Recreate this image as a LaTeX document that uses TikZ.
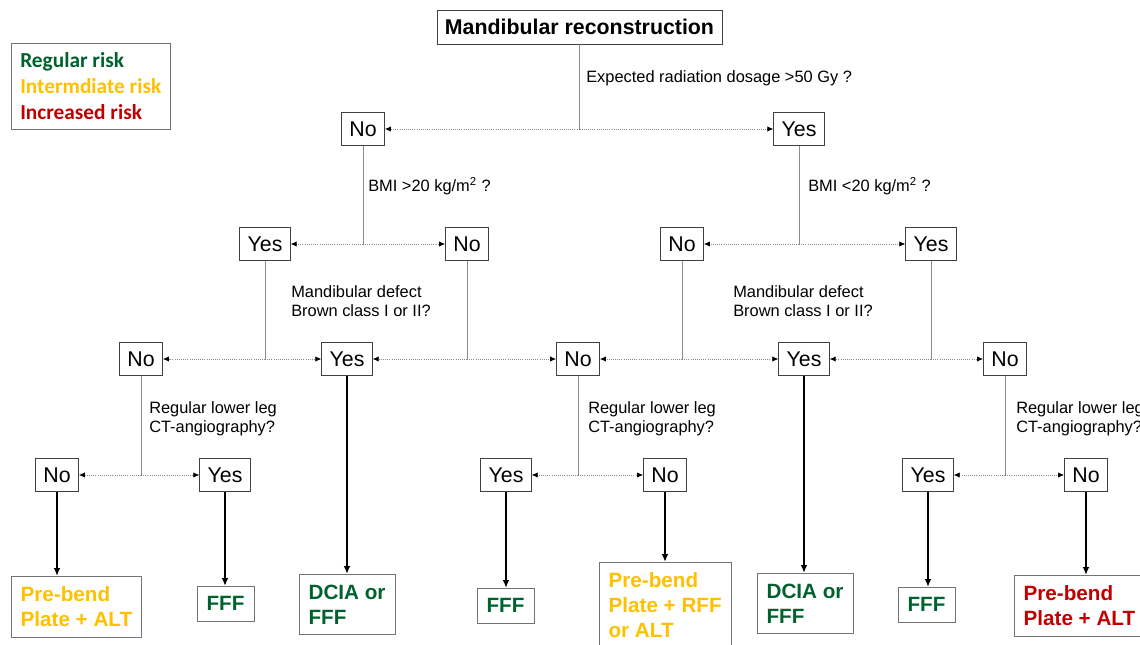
\documentclass[tikz,border=0pt]{standalone}
\usepackage{fontspec}
\setmainfont{Liberation Sans}
\newfontfamily\keyfont{Carlito}
\usepackage{xcolor}
\usetikzlibrary{arrows.meta}

\definecolor{lowrisk}{RGB}{0,97,44}
\definecolor{midrisk}{RGB}{255,192,0}
\definecolor{highrisk}{RGB}{192,0,0}

\begin{document}
\begin{tikzpicture}[x=0.75pt,y=-0.75pt]
    \tikzstyle{dec} = [
      rectangle,
      draw=black!75,
      font=\fontsize{16}{19}\selectfont,
      inner xsep=6pt,
      minimum height=24.75pt,
    ]
    \tikzstyle{result} = [
      rectangle,
      draw=black!55,
      anchor=north west,
      align=left,
      font=\fontsize{15.5}{18.75}\selectfont\bfseries,
      inner xsep=7pt,
      inner ysep=7.8pt,
    ]
    \tikzstyle{query} = [
      anchor=west,
      align=left,
      inner sep=0pt,
      font=\fontsize{12.3}{14.25}\selectfont,
    ]
    \tikzstyle{stem} = [
      draw=black!45,
      line width=0.6pt,
    ]
    \tikzstyle{branch} = [
      densely dotted,
      draw=black!45,
      line width=0.6pt,
      -{Latex[length=4.5pt,width=4pt,color=black]},
    ]
    \tikzstyle{flow} = [
      line width=1.5pt,
      -{Latex[length=6pt,width=5pt]},
      draw=black,
    ]

    \useasboundingbox (0,0) rectangle (1140,644);
    \clip (0,0) rectangle (1140,644);

    % legend
    \node[draw=black!55,anchor=north west,align=left,inner xsep=6.75pt,inner ysep=7pt,
      font=\keyfont\bfseries\fontsize{16}{19.5}\selectfont] (legend) at (11,43)
      {\textcolor{lowrisk}{Regular risk}\\\textcolor{midrisk}{Intermdiate risk}\\\textcolor{highrisk}{Increased risk}};

    % decision boxes
    \node[dec,font=\fontsize{16}{19}\selectfont\bfseries,minimum height=25.5pt] (mandible) at (579.5,27) {Mandibular reconstruction};

    \node[dec] (noRad) at (363,129) {No};
    \node[dec] (yesRad) at (799,129) {Yes};

    \node[dec] (yesBmiL) at (265,244) {Yes};
    \node[dec] (noBmiL) at (467,244) {No};
    \node[dec] (noBmiR) at (682,244) {No};
    \node[dec] (yesBmiR) at (931,244) {Yes};

    \node[dec] (noDefA) at (141,359) {No};
    \node[dec] (yesDefA) at (347,359) {Yes};
    \node[dec] (noDefB) at (578,359) {No};
    \node[dec] (yesDefB) at (804,359) {Yes};
    \node[dec] (noDefC) at (1005,359) {No};

    \node[dec] (noLegA) at (57,475) {No};
    \node[dec] (yesLegA) at (225,475) {Yes};
    \node[dec] (yesLegB) at (506,475) {Yes};
    \node[dec] (noLegB) at (665,475) {No};
    \node[dec] (yesLegC) at (928,475) {Yes};
    \node[dec] (noLegC) at (1086,475) {No};

    % outcomes
    \node[result,text=midrisk] (altL) at (11,576) {Pre-bend\\Plate + ALT};
    \node[result,text=lowrisk] (fffA) at (197,586) {FFF};
    \node[result,text=lowrisk] (dciaA) at (299,574) {DCIA or\\FFF};
    \node[result,text=lowrisk] (fffB) at (477,588) {FFF};
    \node[result,text=midrisk] (rffM) at (599,562) {Pre-bend\\Plate + RFF\\or ALT};
    \node[result,text=lowrisk] (dciaB) at (757,573) {DCIA or\\FFF};
    \node[result,text=lowrisk] (fffC) at (898,587) {FFF};
    \node[result,text=highrisk] (altR) at (1014,575) {Pre-bend\\Plate + ALT};

    % questions
    \node[query] (qRad) at (586,78) {Expected radiation dosage >50 Gy ?};
    \node[query] (qBmiL) at (368,186) {BMI >20 kg/m\textsuperscript{2} ?};
    \node[query] (qBmiR) at (808,186) {BMI <20 kg/m\textsuperscript{2} ?};
    \node[query] (qDefL) at (291,301.5) {Mandibular defect\\Brown class I or II?};
    \node[query] (qDefR) at (733,301.5) {Mandibular defect\\Brown class I or II?};
    \node[query] (qLegA) at (149,419) {Regular lower leg\\CT-angiography?};
    \node[query] (qLegB) at (588,419) {Regular lower leg\\CT-angiography?};
    \node[query] (qLegC) at (1016,419) {Regular lower leg\\CT-angiography?};

    % junctions
    \coordinate (jRad) at (mandible.south |- noRad);
    \coordinate (jBmiL) at (noRad.south |- yesBmiL);
    \coordinate (jBmiR) at (yesRad.south |- noBmiR);
    \coordinate (jDefA) at (yesBmiL.south |- noDefA);
    \coordinate (jDefB) at (noBmiL.south |- noDefB);
    \coordinate (jDefC) at (noBmiR.south |- yesDefB);
    \coordinate (jDefD) at (yesBmiR.south |- noDefC);
    \coordinate (jLegA) at (noDefA.south |- noLegA);
    \coordinate (jLegB) at (noDefB.south |- yesLegB);
    \coordinate (jLegC) at (noDefC.south |- yesLegC);

    \draw[stem] (mandible) -- (jRad);
    \draw[branch] (jRad) -- (noRad);
    \draw[branch] (jRad) -- (yesRad);

    \draw[stem] (noRad) -- (jBmiL);
    \draw[branch] (jBmiL) -- (yesBmiL);
    \draw[branch] (jBmiL) -- (noBmiL);
    \draw[stem] (yesRad) -- (jBmiR);
    \draw[branch] (jBmiR) -- (noBmiR);
    \draw[branch] (jBmiR) -- (yesBmiR);

    \draw[stem] (yesBmiL) -- (jDefA);
    \draw[branch] (jDefA) -- (noDefA);
    \draw[branch] (jDefA) -- (yesDefA);
    \draw[stem] (noBmiL) -- (jDefB);
    \draw[branch] (jDefB) -- (yesDefA);
    \draw[branch] (jDefB) -- (noDefB);
    \draw[stem] (noBmiR) -- (jDefC);
    \draw[branch] (jDefC) -- (noDefB);
    \draw[branch] (jDefC) -- (yesDefB);
    \draw[stem] (yesBmiR) -- (jDefD);
    \draw[branch] (jDefD) -- (yesDefB);
    \draw[branch] (jDefD) -- (noDefC);

    \draw[stem] (noDefA) -- (jLegA);
    \draw[branch] (jLegA) -- (noLegA);
    \draw[branch] (jLegA) -- (yesLegA);
    \draw[stem] (noDefB) -- (jLegB);
    \draw[branch] (jLegB) -- (yesLegB);
    \draw[branch] (jLegB) -- (noLegB);
    \draw[stem] (noDefC) -- (jLegC);
    \draw[branch] (jLegC) -- (yesLegC);
    \draw[branch] (jLegC) -- (noLegC);

    \draw[flow] (noLegA) -- (noLegA.south |- altL.north);
    \draw[flow] (yesLegA) -- (yesLegA.south |- fffA.north);
    \draw[flow] (yesDefA) -- (yesDefA.south |- dciaA.north);
    \draw[flow] (yesLegB) -- (yesLegB.south |- fffB.north);
    \draw[flow] (noLegB) -- (noLegB.south |- rffM.north);
    \draw[flow] (yesDefB) -- (yesDefB.south |- dciaB.north);
    \draw[flow] (yesLegC) -- (yesLegC.south |- fffC.north);
    \draw[flow] (noLegC) -- (noLegC.south |- altR.north);
  \end{tikzpicture}
\end{document}
